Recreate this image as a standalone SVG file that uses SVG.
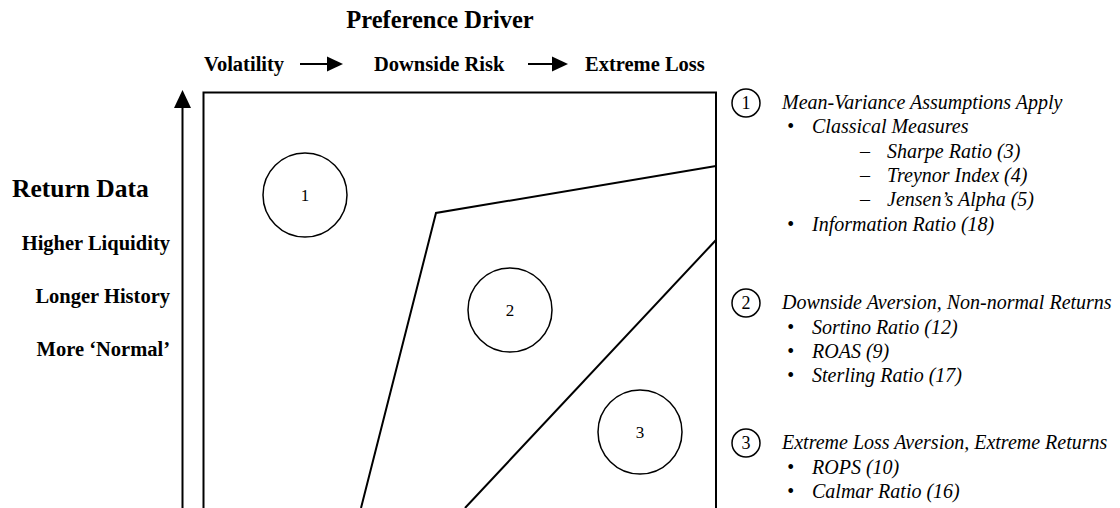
<svg xmlns="http://www.w3.org/2000/svg" width="1120" height="508" viewBox="0 0 1120 508">
<style>
text{font-family:"Liberation Serif","Times New Roman",serif;fill:#000}
.h{font-weight:bold;font-size:24.5px}
.rd{font-weight:bold;font-size:25.5px}
.b{font-weight:bold;font-size:20.5px}
.i{font-style:italic;font-size:20px}
.n{font-size:17px;text-anchor:middle}
.cn{font-size:18px;text-anchor:middle}
.ln{fill:none;stroke:#000;stroke-width:2}
.c{fill:#fff;stroke:#000;stroke-width:1.5}
.cs{fill:none;stroke:#000;stroke-width:1.5}
</style>
<rect width="1120" height="508" fill="#fff"/>
<g id="header">
<text class="h" x="440" y="28" text-anchor="middle">Preference Driver</text>
<text class="b" x="204" y="71">Volatility</text>
<text class="b" x="374" y="71">Downside Risk</text>
<text class="b" x="585" y="71">Extreme Loss</text>
</g>
<g id="axis-labels">
<text class="rd" x="12" y="197">Return Data</text>
<text class="b" x="170" y="250" text-anchor="end">Higher Liquidity</text>
<text class="b" x="170" y="303" text-anchor="end">Longer History</text>
<text class="b" x="170" y="356" text-anchor="end">More ‘Normal’</text>
</g>
<g id="connectors">
<path d="M300,64 H328" class="ln"/><path d="M327,56.5 L343,64 L327,71.5 Z" fill="#000"/>
<path d="M528,64 H553" class="ln"/><path d="M552,56.5 L568,64 L552,71.5 Z" fill="#000"/>
<path d="M182.5,508 V106" class="ln"/><path d="M174,108 L182.5,90 L191,108 Z" fill="#000"/>
<path d="M716,166 L436,213 L361,508" class="ln"/>
<path d="M716,240 L465,508" class="ln"/>
</g>
<g id="frame"><path d="M203.5,510 V92.5 H716 V510" class="ln"/></g>
<g id="region1"><circle class="c" cx="305" cy="195" r="42"/><text class="n" x="305" y="201">1</text></g>
<g id="region2"><circle class="c" cx="510" cy="310" r="42"/><text class="n" x="510" y="316">2</text></g>
<g id="region3"><circle class="c" cx="640" cy="432" r="42"/><text class="n" x="640" y="438">3</text></g>
<g id="legend1">
<circle class="cs" cx="746" cy="103" r="14"/><text class="cn" x="746" y="109">1</text>
<text class="i" x="782" y="109">Mean-Variance Assumptions Apply</text>
<text class="i" x="787" y="133">•</text><text class="i" x="812" y="133">Classical Measures</text>
<text class="i" x="860" y="158">–</text><text class="i" x="887" y="158">Sharpe Ratio (3)</text>
<text class="i" x="860" y="182">–</text><text class="i" x="887" y="182">Treynor Index (4)</text>
<text class="i" x="860" y="206">–</text><text class="i" x="887" y="206">Jensen’s Alpha (5)</text>
<text class="i" x="787" y="231">•</text><text class="i" x="812" y="231">Information Ratio (18)</text>
</g>
<g id="legend2">
<circle class="cs" cx="746" cy="303" r="14"/><text class="cn" x="746" y="309">2</text>
<text class="i" x="782" y="309">Downside Aversion, Non-normal Returns</text>
<text class="i" x="787" y="334">•</text><text class="i" x="812" y="334">Sortino Ratio (12)</text>
<text class="i" x="787" y="358">•</text><text class="i" x="812" y="358">ROAS (9)</text>
<text class="i" x="787" y="382">•</text><text class="i" x="812" y="382">Sterling Ratio (17)</text>
</g>
<g id="legend3">
<circle class="cs" cx="746" cy="443" r="14"/><text class="cn" x="746" y="449">3</text>
<text class="i" x="782" y="449">Extreme Loss Aversion, Extreme Returns</text>
<text class="i" x="787" y="474">•</text><text class="i" x="812" y="474">ROPS (10)</text>
<text class="i" x="787" y="498">•</text><text class="i" x="812" y="498">Calmar Ratio (16)</text>
</g>
</svg>
